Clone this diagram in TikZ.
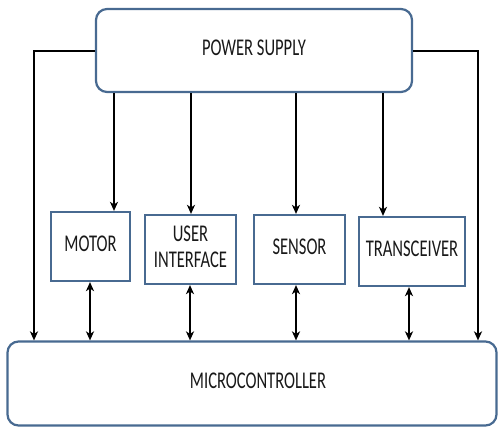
\documentclass[tikz,border=0pt]{standalone}
\usepackage{fontspec}
\setmainfont{Carlito}
\usetikzlibrary{arrows.meta}
\definecolor{boxblue}{RGB}{72,106,145}
\newcommand{\sqz}[1]{\scalebox{0.69}[1]{\begin{tabular}{@{}c@{}}#1\end{tabular}}}
\begin{document}
\begin{tikzpicture}[x=1pt,y=-1pt,
  blk/.style={draw=boxblue, line width=2.2pt, fill=white, inner sep=0pt,
    font=\fontsize{24}{26}\selectfont, text=black!90},
  rblk/.style={blk, rounded corners=11pt},
  conn/.style={line width=2pt, black, -{Stealth[length=9pt,width=8pt,inset=2.5pt]}},
  bconn/.style={line width=2pt, black, {Stealth[length=9pt,width=8pt,inset=2.5pt]}-{Stealth[length=9pt,width=8pt,inset=2.5pt]}}]
\useasboundingbox (0,0) rectangle (498,426);
\node[rblk, minimum width=316pt, minimum height=83pt] (ps) at (254,50.5) {\sqz{POWER SUPPLY}};
\node[blk, minimum width=79pt, minimum height=69pt] (motor) at (90.5,246.5) {\sqz{MOTOR}};
\node[blk, minimum width=91pt, minimum height=69pt] (ui) at (190.5,249.5) {\sqz{USER\\INTERFACE}};
\node[blk, minimum width=91pt, minimum height=69pt] (sensor) at (299.5,249.5) {\sqz{SENSOR}};
\node[blk, minimum width=106pt, minimum height=69pt] (trx) at (412,251.5) {\sqz{TRANSCEIVER}};
\node[rblk, minimum width=489pt, minimum height=84pt] (mc) at (252,383.5) {\hspace*{12pt}\sqz{MICROCONTROLLER}};
% column coordinates
\coordinate (d1) at (114,0);
\coordinate (d2) at (191,0);
\coordinate (d3) at (296,0);
\coordinate (d4) at (383,0);
\coordinate (b1) at (90,0);
\coordinate (b2) at (190,0);
\coordinate (b3) at (296,0);
\coordinate (b4) at (409,0);
\coordinate (sl) at (34,0);
\coordinate (sr) at (478,0);
% power to peripherals
\draw[conn] (d1 |- ps.south) -- (d1 |- motor.north);
\draw[conn] (d2 |- ps.south) -- (d2 |- ui.north);
\draw[conn] (d3 |- ps.south) -- (d3 |- sensor.north);
\draw[conn] (d4 |- ps.south) -- (d4 |- trx.north);
% power to microcontroller
\draw[conn] (ps.west) -| (sl |- mc.north);
\draw[conn] (ps.east) -| (sr |- mc.north);
% peripherals <-> microcontroller
\draw[bconn] (b1 |- motor.south) -- (b1 |- mc.north);
\draw[bconn] (b2 |- ui.south) -- (b2 |- mc.north);
\draw[bconn] (b3 |- sensor.south) -- (b3 |- mc.north);
\draw[bconn] (b4 |- trx.south) -- (b4 |- mc.north);
\end{tikzpicture}
\end{document}
